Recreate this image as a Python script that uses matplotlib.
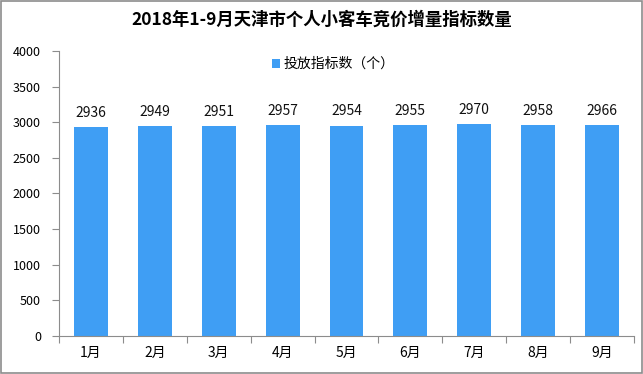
import matplotlib
matplotlib.use('Agg')
import matplotlib.pyplot as plt
from matplotlib.patches import Rectangle

plt.rcParams['font.family'] = ['Noto Sans CJK SC', 'DejaVu Sans']

months = ['1月', '2月', '3月', '4月', '5月', '6月', '7月', '8月', '9月']
quota = [2936, 2949, 2951, 2957, 2954, 2955, 2970, 2958, 2966]
yticks = [0, 500, 1000, 1500, 2000, 2500, 3000, 3500, 4000]

bar_color = '#3F9EF4'
axis_color = '#8c8c8c'

fig = plt.figure(figsize=(6.43, 3.74), dpi=100)
ax = fig.add_axes([59/643, 1 - 336/374, 575/643, 285/374])

x = list(range(len(months)))
bars = ax.bar(x, quota, width=0.53, color=bar_color, label='投放指标数（个）')

# value labels above bars
for xi, v in zip(x, quota):
    ax.text(xi, v + 100, str(v), ha='center', va='bottom', fontsize=10, color='#111111')

# x axis: ticks at category boundaries, labels centred
ax.set_xlim(-0.5, len(months) - 0.5)
ax.set_xticks([i - 0.5 for i in range(len(months) + 1)], minor=False)
ax.set_xticklabels([])
ax.set_xticks(x, minor=True)
ax.set_xticklabels(months, minor=True, fontsize=10)
ax.tick_params(axis='x', which='major', length=5, color=axis_color)
ax.tick_params(axis='x', which='minor', length=0, pad=7)

# y axis
ax.set_ylim(0, 4000)
ax.set_yticks(yticks)
ax.set_yticklabels([str(t) for t in yticks], fontsize=9)
ax.tick_params(axis='y', length=5, color=axis_color, pad=8)

for s in ['top', 'right']:
    ax.spines[s].set_visible(False)
for s in ['left', 'bottom']:
    ax.spines[s].set_color(axis_color)

fig.text(0.5, 1 - 20/374, '2018年1-9月天津市个人小客车竞价增量指标数量',
         ha='center', va='center', fontsize=12.5, fontweight='bold')

ax.legend(loc='center', bbox_to_anchor=(333/643, 1 - 64/374), bbox_transform=fig.transFigure,
          frameon=False, fontsize=10, handlelength=0.6, handleheight=0.6, handletextpad=0.2)

# outer border
fig.patches.append(Rectangle((0.001, 0.002), 0.997, 0.995, transform=fig.transFigure,
                             fill=False, edgecolor=axis_color, linewidth=1.2))

plt.savefig('out.png', dpi=100)
